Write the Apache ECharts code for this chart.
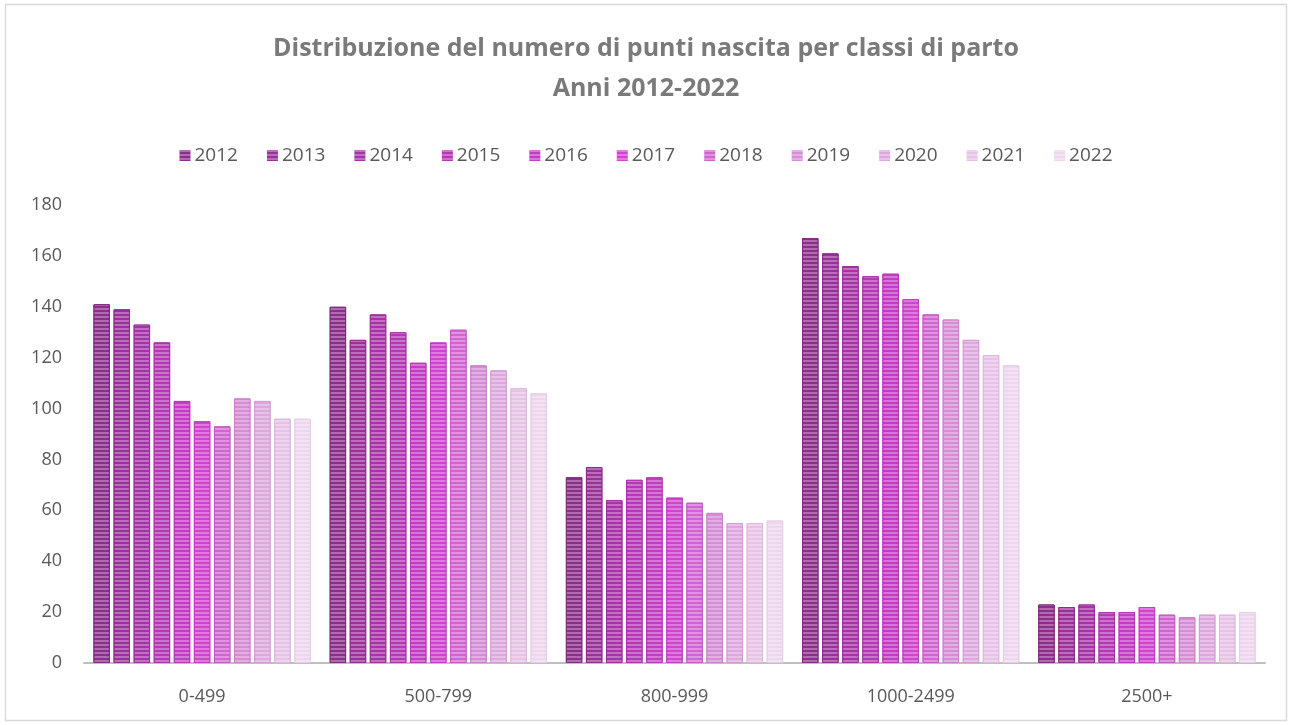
<!DOCTYPE html>
<html><head><meta charset="utf-8">
<script src="https://cdn.jsdelivr.net/npm/echarts@6/dist/echarts.min.js"></script>
<style>html,body{margin:0;padding:0;background:#fff}#c{width:1292px;height:725px}</style>
</head><body><div id="c"></div>
<script>
const categories = ['0-499','500-799','800-999','1000-2499','2500+'];
const years = ['2012','2013','2014','2015','2016','2017','2018','2019','2020','2021','2022'];
const v2012 = [141,140,73,167,23];
const v2013 = [139,127,77,161,22];
const v2014 = [133,137,64,156,23];
const v2015 = [126,130,72,152,20];
const v2016 = [103,118,73,153,20];
const v2017 = [95,126,65,143,22];
const v2018 = [93,131,63,137,19];
const v2019 = [104,117,59,135,18];
const v2020 = [103,115,55,127,19];
const v2021 = [96,108,55,121,19];
const v2022 = [96,106,56,117,20];
const yTicks = [0,20,40,60,80,100,120,140,160,180];
const values = [v2012,v2013,v2014,v2015,v2016,v2017,v2018,v2019,v2020,v2021,v2022];
const colors = ['#8c2e8c','#9a309a','#a833a8','#b638b6','#c43cc4','#d044d0','#d264d2','#d68cd6','#dea8de','#e6c2e6','#eed6ee'];
const borders = ['#7e2a7e','#8c2c8c','#992f99','#a733a7','#b438b4','#c03ec0','#c45cc4','#ca82ca','#d49ed4','#ddb8dd','#e6cee6'];

const chart = echarts.init(document.getElementById('c'));
chart.setOption({
  animation:false,
  backgroundColor:'#fff',
  graphic:[{type:'rect',shape:{x:5.5,y:4.5,width:1281,height:716},style:{fill:'none',stroke:'#d9d9d9',lineWidth:1.5},silent:true}],
  title:[
    {text:'Distribuzione del numero di punti nascita per classi di parto', left:'center', top:31,
     textStyle:{fontFamily:'Open Sans',fontWeight:'bold',fontSize:25,color:'#7a7a7a'}},
    {text:'Anni 2012-2022', left:'center', top:71,
     textStyle:{fontFamily:'Open Sans',fontWeight:'bold',fontSize:25,color:'#7a7a7a'}}
  ],
  legend:{
    top:141, left:'center', itemWidth:11, itemHeight:11, itemGap:29,
    icon:'rect',
    itemStyle:{borderWidth:0},
    textStyle:{fontFamily:'Open Sans',fontSize:19,color:'#595959',padding:[0,0,0,-1]},
    data:years
  },
  grid:{left:84,right:27,top:205,bottom:62,containLabel:false},
  xAxis:{
    type:'category', data:categories,
    axisLine:{lineStyle:{color:'#bfbfbf',width:2}},
    axisTick:{show:false},
    axisLabel:{fontFamily:'Open Sans',fontSize:18,color:'#595959',margin:25}
  },
  yAxis:{
    type:'value', min:0, max:180, interval:20,
    splitLine:{show:false}, axisLine:{show:false}, axisTick:{show:false},
    axisLabel:{fontFamily:'Open Sans',fontSize:18,color:'#595959',margin:22,
      formatter:function(v){return yTicks.indexOf(v)>=0?String(v):'';}}
  },
  series: years.map((y,i)=>({
    name:y, type:'bar', data:values[i],
    barGap:'22%', barCategoryGap:'8%',
    itemStyle:{color:colors[i],borderColor:borders[i],borderWidth:1,
      decal:{symbol:'rect',symbolSize:1,dashArrayX:[1,0],dashArrayY:[2,2],rotation:0,color:'rgba(255,255,255,0.3)'}}
  }))
});
</script></body></html>
